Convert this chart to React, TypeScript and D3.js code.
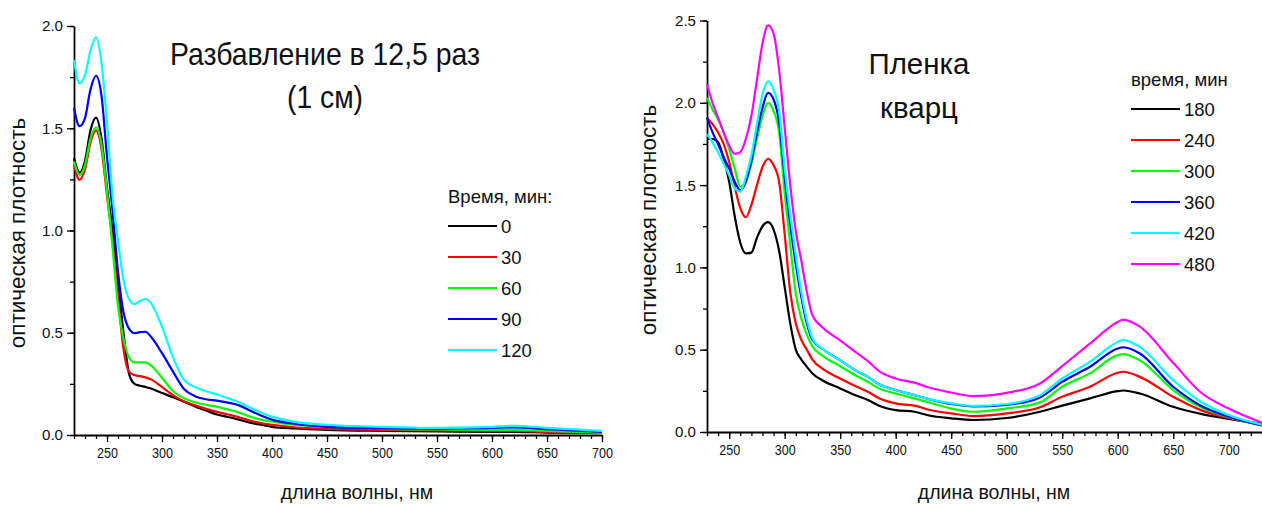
import React, { useEffect, useRef } from "react";
import * as d3 from "d3";

// left panel: dilution 12.5x (1 cm)
const leftWave = [220, 225, 230, 235, 240, 245, 250, 255, 260, 265, 270, 275, 280, 285, 290, 300, 310, 320, 330, 340, 350, 360, 370, 380, 390, 400, 420, 450, 500, 550, 600, 620, 650, 700];
const leftLabels = ["0", "30", "60", "90", "120"];
const leftColors = ["#000000", "#ff0000", "#00ff00", "#0000ff", "#00ffff"];
const left0 = [1.354, 1.283, 1.34, 1.49, 1.552, 1.45, 1.21, 1.0, 0.74, 0.5, 0.3, 0.25, 0.241, 0.235, 0.227, 0.205, 0.185, 0.163, 0.14, 0.12, 0.1, 0.088, 0.075, 0.06, 0.05, 0.04, 0.032, 0.025, 0.02, 0.017, 0.015, 0.015, 0.012, 0.01];
const left30 = [1.32, 1.248, 1.3, 1.43, 1.49, 1.4, 1.17, 0.95, 0.68, 0.42, 0.31, 0.293, 0.288, 0.282, 0.272, 0.235, 0.195, 0.165, 0.145, 0.128, 0.113, 0.1, 0.087, 0.07, 0.058, 0.05, 0.038, 0.03, 0.025, 0.022, 0.02, 0.02, 0.015, 0.01];
const left60 = [1.337, 1.272, 1.32, 1.45, 1.505, 1.42, 1.19, 0.92, 0.63, 0.47, 0.38, 0.355, 0.355, 0.355, 0.34, 0.28, 0.215, 0.18, 0.16, 0.148, 0.138, 0.125, 0.11, 0.09, 0.075, 0.065, 0.05, 0.04, 0.03, 0.027, 0.025, 0.025, 0.02, 0.012];
const left90 = [1.6, 1.51, 1.55, 1.69, 1.756, 1.66, 1.36, 1.1, 0.8, 0.6, 0.52, 0.498, 0.503, 0.505, 0.48, 0.4, 0.31, 0.225, 0.19, 0.175, 0.168, 0.158, 0.145, 0.12, 0.095, 0.075, 0.055, 0.04, 0.032, 0.03, 0.035, 0.037, 0.028, 0.015];
const left120 = [1.834, 1.72, 1.76, 1.88, 1.945, 1.82, 1.53, 1.17, 0.95, 0.76, 0.665, 0.64, 0.655, 0.665, 0.645, 0.53, 0.38, 0.27, 0.235, 0.215, 0.198, 0.18, 0.16, 0.135, 0.11, 0.09, 0.065, 0.05, 0.04, 0.035, 0.04, 0.045, 0.035, 0.02];

// right panel: quartz film
const rightWave = [230, 235, 240, 245, 250, 255, 260, 265, 270, 275, 280, 285, 290, 295, 300, 305, 310, 315, 320, 325, 335, 350, 365, 375, 385, 400, 417, 430, 450, 470, 500, 530, 550, 575, 600, 605, 620, 650, 675, 700, 730];
const rightLabels = ["180", "240", "300", "360", "420", "480"];
const rightColors = ["#000000", "#ff0000", "#00ff00", "#0000ff", "#00ffff", "#ff00ff"];
const right180 = [1.78, 1.78, 1.76, 1.66, 1.52, 1.31, 1.15, 1.085, 1.09, 1.18, 1.25, 1.275, 1.23, 1.1, 0.88, 0.66, 0.5, 0.44, 0.396, 0.355, 0.31, 0.265, 0.22, 0.194, 0.16, 0.133, 0.123, 0.1, 0.083, 0.073, 0.085, 0.123, 0.16, 0.204, 0.248, 0.252, 0.234, 0.153, 0.11, 0.08, 0.05];
const right240 = [1.91, 1.87, 1.82, 1.75, 1.64, 1.49, 1.36, 1.305, 1.38, 1.5, 1.61, 1.659, 1.62, 1.52, 1.2, 0.85, 0.66, 0.56, 0.5, 0.44, 0.38, 0.325, 0.275, 0.245, 0.205, 0.174, 0.16, 0.135, 0.113, 0.097, 0.113, 0.15, 0.214, 0.275, 0.36, 0.366, 0.335, 0.214, 0.133, 0.085, 0.045];
const right300 = [2.03, 1.96, 1.9, 1.82, 1.72, 1.6, 1.49, 1.52, 1.63, 1.78, 1.92, 2.0, 1.95, 1.82, 1.45, 1.14, 0.84, 0.69, 0.59, 0.52, 0.46, 0.4, 0.34, 0.305, 0.265, 0.234, 0.204, 0.18, 0.143, 0.123, 0.143, 0.18, 0.275, 0.356, 0.467, 0.473, 0.436, 0.255, 0.15, 0.09, 0.04];
const right360 = [1.91, 1.82, 1.75, 1.67, 1.6, 1.52, 1.47, 1.52, 1.65, 1.82, 1.97, 2.06, 2.02, 1.88, 1.55, 1.26, 1.02, 0.82, 0.66, 0.56, 0.5, 0.436, 0.37, 0.335, 0.29, 0.255, 0.224, 0.2, 0.17, 0.155, 0.165, 0.21, 0.305, 0.396, 0.507, 0.515, 0.477, 0.275, 0.16, 0.093, 0.04];
const right420 = [1.81, 1.76, 1.7, 1.63, 1.56, 1.48, 1.46, 1.55, 1.68, 1.87, 2.05, 2.13, 2.08, 1.95, 1.6, 1.32, 1.07, 0.85, 0.68, 0.57, 0.5, 0.436, 0.37, 0.335, 0.29, 0.255, 0.224, 0.2, 0.174, 0.158, 0.17, 0.224, 0.325, 0.426, 0.547, 0.56, 0.517, 0.315, 0.184, 0.103, 0.045];
const right480 = [2.113, 2.0, 1.91, 1.82, 1.74, 1.69, 1.7, 1.78, 1.92, 2.14, 2.36, 2.47, 2.42, 2.2, 1.85, 1.5, 1.22, 1.04, 0.85, 0.71, 0.63, 0.557, 0.48, 0.43, 0.37, 0.325, 0.3, 0.27, 0.24, 0.218, 0.238, 0.295, 0.4, 0.537, 0.668, 0.683, 0.64, 0.42, 0.24, 0.143, 0.057];

const FONT = "'Liberation Sans', Arial, sans-serif";

const drawPanel = (svg, cfg) => {
  const { x, y, xMajor, xMinor, yMajor, yMinor, wave, series, colors } = cfg;
  const g = svg.append("g");

  // minor ticks
  g.append("g")
    .attr("transform", `translate(0, ${y.range()[0]})`)
    .call(d3.axisBottom(x).tickValues(xMinor).tickSize(4).tickSizeOuter(0).tickFormat(() => ""))
    .call((a) => a.select(".domain").remove());
  g.append("g")
    .attr("transform", `translate(${x.range()[0]}, 0)`)
    .call(d3.axisLeft(y).tickValues(yMinor).tickSize(4).tickSizeOuter(0).tickFormat(() => ""))
    .call((a) => a.select(".domain").remove());

  const xAxis = g.append("g")
    .attr("transform", `translate(0, ${y.range()[0]})`)
    .call(d3.axisBottom(x).tickValues(xMajor).tickSize(7).tickSizeOuter(0).tickPadding(5));
  const yAxis = g.append("g")
    .attr("transform", `translate(${x.range()[0]}, 0)`)
    .call(d3.axisLeft(y).tickValues(yMajor).tickSize(7).tickSizeOuter(0).tickPadding(4).tickFormat(d3.format(".1f")));

  [xAxis, yAxis].forEach((a) => {
    a.select(".domain").attr("stroke-width", 1.8);
    a.selectAll("text")
      .attr("font-family", FONT)
      .attr("font-size", 15.5)
      .attr("fill", "#111")
      .attr("textLength", 21)
      .attr("lengthAdjust", "spacingAndGlyphs");
  });
  g.selectAll(".tick line").attr("stroke-width", 1.3);

  const line = d3.line()
    .x((d) => x(d[0]))
    .y((d) => y(d[1]))
    .curve(d3.curveMonotoneX);

  series.forEach((s, i) => {
    g.append("path")
      .datum(wave.map((w, j) => [w, s[j]]))
      .attr("d", line)
      .attr("fill", "none")
      .attr("stroke", colors[i])
      .attr("stroke-width", 2.2)
      .attr("stroke-linejoin", "round");
  });
  return g;
};

const drawLegend = (svg, x0, y0, title, labels, colors, step) => {
  const lg = svg.append("g").attr("font-family", FONT).attr("font-size", 18.5).attr("fill", "#111");
  lg.append("text").attr("x", x0).attr("y", y0).text(title);
  labels.forEach((lab, i) => {
    const yy = y0 + 23 + i * step;
    lg.append("line")
      .attr("x1", x0).attr("x2", x0 + 49)
      .attr("y1", yy).attr("y2", yy)
      .attr("stroke", colors[i]).attr("stroke-width", 2);
    lg.append("text").attr("x", x0 + 53).attr("y", yy + 6.5).text(lab);
  });
};

export default function App() {
  const svgRef = useRef(null);

  useEffect(() => {
    const svg = d3.select(svgRef.current);
    svg.selectAll("*").remove();

    // ---- left panel
    const lx = d3.scaleLinear().domain([220, 700]).range([74, 602]);
    const ly = d3.scaleLinear().domain([0, 2]).range([435, 26]);
    drawPanel(svg, {
      x: lx, y: ly,
      xMajor: d3.range(250, 701, 50),
      xMinor: d3.range(220, 701, 10),
      yMajor: d3.range(0, 2.01, 0.5),
      yMinor: d3.range(0, 2.01, 0.25),
      wave: leftWave,
      series: [left0, left30, left60, left90, left120],
      colors: leftColors,
    });

    // ---- right panel
    const rx = d3.scaleLinear().domain([230, 730]).range([707, 1262]);
    const ry = d3.scaleLinear().domain([0, 2.5]).range([432, 20.5]);
    drawPanel(svg, {
      x: rx, y: ry,
      xMajor: d3.range(250, 701, 50),
      xMinor: d3.range(230, 731, 10),
      yMajor: d3.range(0, 2.51, 0.5),
      yMinor: d3.range(0, 2.51, 0.25),
      wave: rightWave,
      series: [right180, right240, right300, right360, right420, right480],
      colors: rightColors,
    });

    // titles
    const t = svg.append("g").attr("font-family", FONT).attr("fill", "#111").attr("text-anchor", "middle");
    t.append("text").attr("x", 325).attr("y", 65).attr("font-size", 32)
      .attr("textLength", 310).attr("lengthAdjust", "spacingAndGlyphs").text("Разбавление в 12,5 раз");
    t.append("text").attr("x", 325).attr("y", 108).attr("font-size", 32)
      .attr("textLength", 76).attr("lengthAdjust", "spacingAndGlyphs").text("(1 см)");
    t.append("text").attr("x", 919).attr("y", 74).attr("font-size", 29.5).text("Пленка");
    t.append("text").attr("x", 919).attr("y", 118).attr("font-size", 29.5).text("кварц");

    // axis titles
    t.append("text").attr("x", 357).attr("y", 499).attr("font-size", 19.5).text("длина волны, нм");
    t.append("text").attr("x", 994).attr("y", 499).attr("font-size", 19.5).text("длина волны, нм");
    t.append("text").attr("transform", "translate(25, 233) rotate(-90)").attr("font-size", 22.5).text("оптическая плотность");
    t.append("text").attr("transform", "translate(656, 220) rotate(-90)").attr("font-size", 22.5).text("оптическая плотность");

    // legends
    drawLegend(svg, 448, 203, "Время, мин:", leftLabels, leftColors, 31);
    drawLegend(svg, 1131, 86, "время, мин", rightLabels, rightColors, 31);
  }, []);

  return (
    <div>
      <svg
        ref={svgRef}
        width={1262}
        height={506}
        style={{ position: "absolute", left: 0, top: 0, background: "#fff" }}
      ></svg>
    </div>
  );
}
